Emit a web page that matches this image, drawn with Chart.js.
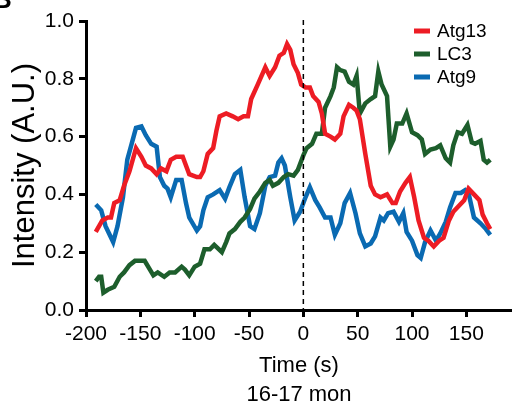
<!DOCTYPE html>
<html>
<head>
<meta charset="utf-8">
<script src="https://cdn.jsdelivr.net/npm/chart.js@4/dist/chart.umd.min.js"></script>
<style>
  html, body { margin: 0; padding: 0; background: #fff; }
  #wrap { width: 512px; height: 409px; position: relative; }
</style>
</head>
<body>
<div id="wrap"><canvas id="chart"></canvas></div>
<script>
// values (time in s, intensity in A.U.)
var atg13Time = [-191,-185,-180,-177,-174,-169,-165,-160,-154,-149,-145,-140,-135,-131,-126,-122,-117,-111,-105,-98,-95,-92,-88,-83,-80,-77,-71,-65,-60,-55,-51,-48,-42,-35,-31,-26,-22,-18,-15,-12,-9,-5,-2,2,6,9,14,17,20,25,29,34,37,42,46,49,52,57,62,66,71,77,82,85,89,94,98,102,106,111,115,120,125,129,134,138,143,148,152,157,162,165,169,172];
var atg13 = [0.27,0.31,0.32,0.32,0.37,0.38,0.43,0.48,0.56,0.53,0.50,0.49,0.47,0.49,0.48,0.52,0.53,0.53,0.47,0.46,0.46,0.48,0.54,0.56,0.62,0.67,0.68,0.67,0.66,0.67,0.67,0.73,0.78,0.84,0.81,0.84,0.88,0.89,0.92,0.90,0.85,0.82,0.78,0.77,0.77,0.74,0.72,0.68,0.61,0.60,0.59,0.61,0.67,0.71,0.70,0.69,0.66,0.54,0.43,0.40,0.39,0.40,0.37,0.37,0.41,0.44,0.46,0.39,0.31,0.25,0.24,0.22,0.24,0.25,0.31,0.34,0.36,0.38,0.42,0.40,0.38,0.33,0.30,0.28];

var lc3Time = [-191,-188,-186,-184,-180,-174,-169,-165,-160,-155,-151,-146,-142,-138,-134,-128,-123,-118,-112,-109,-105,-100,-95,-91,-86,-82,-75,-71,-68,-63,-58,-54,-49,-45,-40,-35,-31,-28,-23,-18,-14,-9,-5,0,3,8,12,17,20,25,28,31,34,38,42,46,49,52,57,62,66,69,72,77,80,83,86,91,95,100,105,109,112,117,122,126,131,135,138,142,146,151,155,158,163,166,169,172];
var lc3 = [0.10,0.115,0.115,0.06,0.07,0.08,0.115,0.13,0.155,0.17,0.17,0.17,0.145,0.12,0.13,0.115,0.13,0.13,0.15,0.14,0.12,0.15,0.16,0.21,0.21,0.225,0.20,0.235,0.265,0.28,0.305,0.32,0.35,0.385,0.41,0.44,0.45,0.43,0.44,0.46,0.47,0.465,0.485,0.535,0.56,0.575,0.61,0.61,0.70,0.74,0.77,0.84,0.83,0.825,0.79,0.78,0.81,0.68,0.715,0.73,0.74,0.825,0.78,0.74,0.565,0.59,0.645,0.645,0.68,0.615,0.605,0.59,0.54,0.555,0.56,0.57,0.525,0.51,0.57,0.615,0.61,0.64,0.58,0.575,0.585,0.52,0.51,0.52];

var atg9Time = [-191,-186,-182,-175,-171,-166,-162,-158,-154,-149,-145,-140,-135,-132,-128,-125,-122,-117,-112,-108,-105,-98,-95,-92,-88,-83,-77,-72,-68,-63,-58,-54,-49,-45,-40,-35,-31,-26,-23,-20,-17,-12,-8,-3,2,6,11,15,20,25,29,34,38,43,48,52,57,62,66,71,74,78,83,88,92,95,100,105,108,112,117,122,126,131,135,140,145,149,152,157,163,168,172];
var atg9 = [0.365,0.345,0.29,0.235,0.29,0.39,0.52,0.575,0.63,0.635,0.605,0.575,0.565,0.46,0.43,0.42,0.39,0.45,0.45,0.37,0.32,0.275,0.29,0.345,0.39,0.40,0.415,0.385,0.425,0.47,0.485,0.39,0.29,0.28,0.335,0.43,0.46,0.465,0.51,0.525,0.50,0.39,0.31,0.34,0.39,0.425,0.38,0.355,0.32,0.32,0.26,0.30,0.37,0.405,0.335,0.265,0.22,0.23,0.255,0.32,0.31,0.335,0.34,0.305,0.335,0.27,0.24,0.19,0.18,0.235,0.275,0.24,0.265,0.305,0.355,0.405,0.405,0.415,0.405,0.32,0.30,0.28,0.26];

var seriesNames = ["Atg13", "LC3", "Atg9"];
var seriesColors = ["#ED1C24", "#1D5E2C", "#0A6AB2"];
var xTicks = [-200, -150, -100, -50, 0, 50, 100, 150];
var yTicks = [0, 0.2, 0.4, 0.6, 0.8, 1.0];

function pts(xs, ys) {
  return xs.map(function (x, i) { return { x: x, y: ys[i] }; });
}

var FONT = "Arial, 'Liberation Sans', Helvetica, sans-serif";

// dashed line at t = 0, the small legend and the panel letter
var extras = {
  id: "extras",
  afterDatasetsDraw: function (chart) {
    var ctx = chart.ctx, a = chart.chartArea;
    var x0 = chart.scales.x.getPixelForValue(0);
    ctx.save();
    ctx.strokeStyle = "#000";
    ctx.lineWidth = 1.5;
    ctx.setLineDash([5, 4]);
    ctx.beginPath();
    ctx.moveTo(x0, a.top - 1);
    ctx.lineTo(x0, a.bottom);
    ctx.stroke();
    ctx.setLineDash([]);

    ctx.font = "19px " + FONT;
    ctx.textBaseline = "middle";
    chart.data.datasets.forEach(function (ds, i) {
      var y = 31 + i * 23;
      ctx.fillStyle = ds.borderColor;
      ctx.fillRect(414, y - 2.5, 16, 5);
      ctx.fillStyle = "#000";
      ctx.fillText(ds.label, 437, y + 1);
    });

    ctx.font = "bold 26px " + FONT;
    ctx.textBaseline = "alphabetic";
    ctx.fillText("B", -7, 8);
    ctx.restore();
  }
};

new Chart(document.getElementById("chart"), {
  type: "scatter",
  data: {
    datasets: [
      { label: seriesNames[0], data: pts(atg13Time, atg13) },
      { label: seriesNames[1], data: pts(lc3Time, lc3) },
      { label: seriesNames[2], data: pts(atg9Time, atg9) }
    ].map(function (d, i) {
      d.showLine = true;
      d.borderColor = seriesColors[i];
      d.backgroundColor = seriesColors[i];
      d.borderWidth = 4.5;
      d.pointRadius = 0;
      d.tension = 0;
      return d;
    })
  },
  options: {
    responsive: true,
    maintainAspectRatio: false,
    animation: false,
    layout: { padding: { top: 21, right: 0, left: 0, bottom: 0 } },
    plugins: { legend: { display: false }, tooltip: { enabled: false } },
    scales: {
      x: {
        type: "linear",
        min: -200,
        max: 192,
        afterBuildTicks: function (s) {
          s.ticks = xTicks.map(function (v) { return { value: v }; });
        },
        afterFit: function (s) { s.height = 99; },
        border: { color: "#000", width: 3 },
        grid: { drawOnChartArea: false, color: "#000", tickColor: "#000", tickLength: 7, tickWidth: 3 },
        ticks: { color: "#000", padding: 5, maxRotation: 0, font: { family: FONT, size: 21 } },
        title: {
          display: true,
          text: ["Time (s)", "16-17 mon"],
          color: "#000",
          padding: { top: 0, bottom: 0 },
          font: { family: FONT, size: 22, lineHeight: 1.3 }
        }
      },
      y: {
        min: 0,
        max: 1.0,
        afterBuildTicks: function (s) {
          s.ticks = yTicks.map(function (v) { return { value: v }; });
        },
        afterFit: function (s) { s.width = 86; },
        border: { color: "#000", width: 3 },
        grid: { drawOnChartArea: false, color: "#000", tickColor: "#000", tickLength: 7, tickWidth: 3 },
        ticks: {
          color: "#000", padding: 5, font: { family: FONT, size: 21 },
          callback: function (v) { return v.toFixed(1); }
        },
        title: {
          display: true,
          text: "Intensity (A.U.)",
          color: "#000",
          padding: { top: 7, bottom: 0 },
          font: { family: FONT, size: 31, lineHeight: 1.2 }
        }
      }
    }
  },
  plugins: [extras]
});
</script>
</body>
</html>
